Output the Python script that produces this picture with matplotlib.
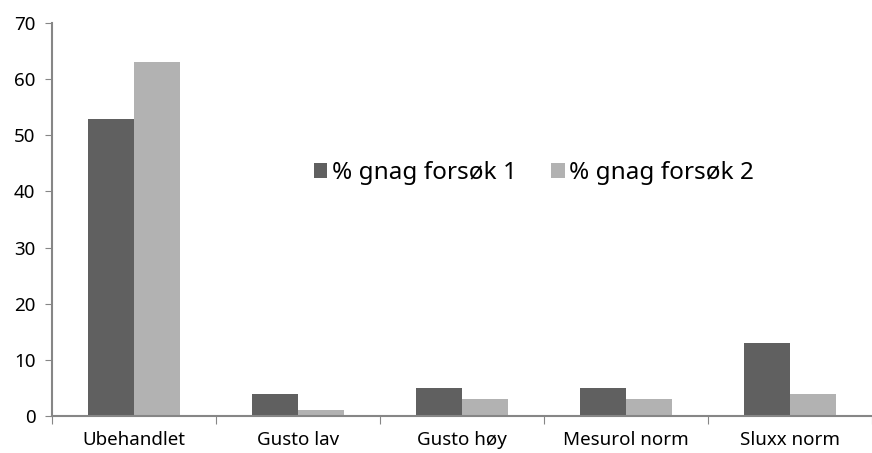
import numpy as np
import matplotlib
matplotlib.use("Agg")
import matplotlib.pyplot as plt

# data
kategorier = ["Ubehandlet", "Gusto lav", "Gusto høy", "Mesurol norm", "Sluxx norm"]
forsok1 = [53, 4, 5, 5, 13]
forsok2 = [63, 1, 3, 3, 4]
serienavn = ["% gnag forsøk 1", "% gnag forsøk 2"]

plt.rcParams['font.family'] = ['Noto Sans', 'DejaVu Sans']

fig = plt.figure(figsize=(8.72, 4.53), dpi=100)
ax = fig.add_axes([0.0596, 0.0817, 0.9404, 0.8673])

x = np.arange(len(kategorier))
w = 0.28
b1 = ax.bar(x - w / 2, forsok1, w, color="#606060", label=serienavn[0])
b2 = ax.bar(x + w / 2, forsok2, w, color="#b2b2b2", label=serienavn[1])

ax.set_xlim(-0.5, len(kategorier) - 0.5)
ax.set_ylim(0, 70)
ax.set_yticks(np.arange(0, 71, 10))
ax.tick_params(axis='y', labelsize=13.5, length=5, color="#868686", direction='out', pad=7)

# category ticks sit at the boundaries
ax.set_xticks(np.arange(-0.5, len(kategorier), 1.0))
ax.set_xticklabels([])
ax.set_xticks(x, minor=True)
ax.set_xticklabels(kategorier, minor=True)
ax.tick_params(axis='x', which='major', length=6, color="#868686")
ax.tick_params(axis='x', which='minor', length=0, labelsize=13.5, pad=11)

for s in ['top', 'right']:
    ax.spines[s].set_visible(False)
for s in ['left', 'bottom']:
    ax.spines[s].set_color("#868686")
    ax.spines[s].set_linewidth(1.5)

ax.legend(loc='center', bbox_to_anchor=(0.588, 0.618), ncol=2, frameon=False,
          fontsize=17.5, handlelength=0.55, handleheight=0.55, handletextpad=0.2,
          columnspacing=1.4)

fig.savefig("out.png", dpi=100)
